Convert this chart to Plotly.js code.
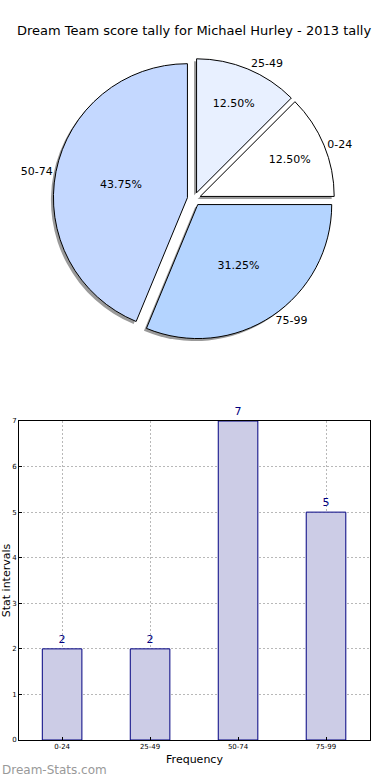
<!DOCTYPE html>
<html>
<head>
<meta charset="utf-8">
<script src="https://cdn.plot.ly/plotly-3.0.1.min.js"></script>
<style>html,body{margin:0;padding:0;background:#fff;}#chart{width:390px;height:780px;}</style>
</head>
<body>
<div id="chart"></div>
<script>
const categories = ["0-24", "25-49", "50-74", "75-99"];
const counts = [2, 2, 7, 5];
const pieColors = ["#ffffff", "#e8f0ff", "#c4d8ff", "#b4d4ff"];
const yTicks = [0, 1, 2, 3, 4, 5, 6, 7];

const W = 390, H = 780;
const cx = 194, cy = 199, r = 134, pull = 0.05;
const half = r * (1 + pull);
function dom(dx, dy) {
  return {
    x: [(cx - half + dx) / W, (cx + half + dx) / W],
    y: [(H - (cy + half + dy)) / H, (H - (cy - half + dy)) / H]
  };
}
const font = "DejaVu Sans, Arial, sans-serif";
const rot = 45;

const shadow = {
  type: "pie", values: counts, labels: categories, sort: false,
  direction: "counterclockwise", rotation: rot, pull: pull,
  domain: dom(-2.5, 2.5), textinfo: "none", hoverinfo: "skip",
  marker: {colors: categories.map(() => "rgba(120,120,120,0.75)"), line: {width: 0}},
  showlegend: false
};
const main = {
  type: "pie", values: counts, labels: categories, sort: false,
  direction: "counterclockwise", rotation: rot, pull: pull,
  domain: dom(0, 0), textinfo: "percent", texttemplate: "%{percent:.2%}",
  textposition: "inside", insidetextorientation: "horizontal",
  textfont: {family: font, size: 11, color: "#000"},
  marker: {colors: pieColors, line: {width: 1, color: "#000"}},
  showlegend: false
};
const labelsTrace = {
  type: "pie", values: counts, labels: categories, sort: false,
  direction: "counterclockwise", rotation: rot, pull: pull,
  domain: dom(0, 0), textinfo: "label", textposition: "outside",
  textfont: {family: font, size: 11, color: "#000"},
  marker: {colors: categories.map(() => "rgba(0,0,0,0)"), line: {width: 0}},
  hoverinfo: "skip", showlegend: false
};
const bars = {
  type: "bar", x: categories, y: counts, width: 0.45,
  xaxis: "x", yaxis: "y",
  marker: {color: "rgb(204,204,230)", line: {color: "#000080", width: 1}},
  text: counts.map(String), textposition: "outside", cliponaxis: false,
  textfont: {family: font, size: 11, color: "#000080"},
  showlegend: false
};

const layout = {
  width: W, height: H,
  margin: {l: 0, r: 0, t: 0, b: 0},
  paper_bgcolor: "#fff", plot_bgcolor: "#fff",
  font: {family: font, color: "#000"},
  title: {text: "Dream Team score tally for Michael Hurley - 2013 tally",
    font: {family: font, size: 13, color: "#000"}, x: 194 / W, xanchor: "center", y: 1 - 30 / H, yanchor: "middle"},
  xaxis: {
    domain: [19 / W, 370 / W], anchor: "y", type: "category",
    range: [-0.49, 3.5], showline: true, linecolor: "#000", linewidth: 1, mirror: true,
    showgrid: true, gridcolor: "#b8b8b8", griddash: "2px,2px", gridwidth: 1,
    ticks: "inside", ticklen: 3, tickcolor: "#000",
    tickfont: {family: font, size: 7, color: "#000"},
    title: {text: "Frequency", font: {family: font, size: 11, color: "#000"}, standoff: 4},
    zeroline: false, fixedrange: true
  },
  yaxis: {
    domain: [40 / H, 359 / H], anchor: "x", range: [0, 7],
    tickvals: yTicks, showline: true, linecolor: "#000", linewidth: 1, mirror: true,
    showgrid: true, gridcolor: "#b8b8b8", griddash: "2px,2px", gridwidth: 1,
    ticks: "inside", ticklen: 3, tickcolor: "#000",
    tickfont: {family: font, size: 7, color: "#000"},
    title: {text: "Stat intervals", font: {family: font, size: 11, color: "#000"}, standoff: 0},
    zeroline: false, fixedrange: true
  },
  annotations: [{
    text: "Dream-Stats.com", xref: "paper", yref: "paper",
    x: 0, y: 1 - 770 / H, xanchor: "left", yanchor: "middle", showarrow: false,
    font: {family: font, size: 12, color: "#999999"}
  }]
};

Plotly.newPlot("chart", [shadow, main, labelsTrace, bars], layout, {displayModeBar: false, staticPlot: true});
</script>
</body>
</html>
